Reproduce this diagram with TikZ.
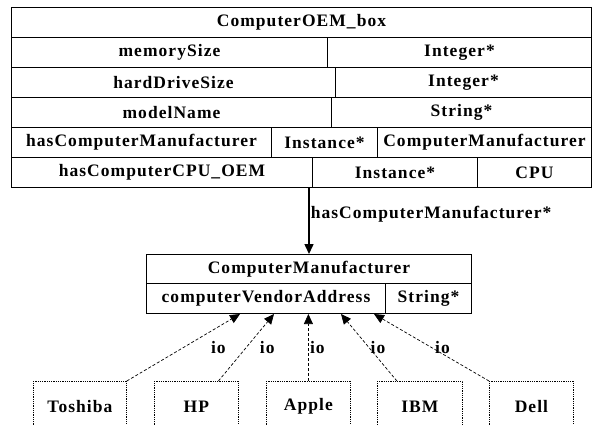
\documentclass[tikz,border=0pt]{standalone}
\usepackage{fontspec}
\setmainfont{Liberation Serif}[LetterSpace=6]
\usetikzlibrary{arrows.meta}
\tikzstyle{cell} = [draw=black, line width=1pt, rectangle, inner sep=0pt, anchor=north west, minimum height=30pt, font=\bfseries\fontsize{17.5}{19}\selectfont]
\tikzstyle{vendor} = [draw=black, densely dotted, line width=0.8pt, rectangle, inner sep=0pt, anchor=north west, minimum height=50pt, font=\bfseries\fontsize{17.5}{19}\selectfont]
\tikzstyle{arrow} = [line width=1.5pt, -{Triangle[length=10pt,width=9pt]}]
\tikzstyle{ioarrow} = [line width=0.7pt, densely dashed, -{Triangle[length=10pt,width=9pt]}]
\tikzstyle{iolab} = [inner sep=0pt, font=\bfseries\fontsize{17.5}{19}\selectfont]

\begin{document}
\begin{tikzpicture}[x=1pt, y=-1pt]
\useasboundingbox (0,0) rectangle (593,424);
% ComputerOEM_box
\node[cell, minimum width=580pt] (oemtitle) at (11,7) {ComputerOEM\_box};
\node[cell, minimum width=316pt] (memsize) at (11,37) {memorySize};
\node[cell, minimum width=264pt] (memtype) at (327,37) {Integer*};
\node[cell, minimum width=324pt] (hdsize) at (11,67) {hardDriveSize};
\node[cell, minimum width=256pt] (hdtype) at (335,67) {Integer*};
\node[cell, minimum width=320pt] (mname) at (11,97) {modelName};
\node[cell, minimum width=260pt] (mntype) at (331,97) {String*};
\node[cell, minimum width=260pt] (hascm) at (11,127) {hasComputerManufacturer};
\node[cell, minimum width=106pt] (hascminst) at (271,127) {Instance*};
\node[cell, minimum width=214pt] (hascmcls) at (377,127) {ComputerManufacturer};
\node[cell, minimum width=301pt] (hascpu) at (11,157) {hasComputerCPU\_OEM};
\node[cell, minimum width=165pt] (hascpuinst) at (312,157) {Instance*};
\node[cell, minimum width=114pt] (hascpucls) at (477,157) {CPU};

% ComputerManufacturer
\node[cell, minimum width=325pt, minimum height=29pt] (cmtitle) at (146,254) {ComputerManufacturer};
\node[cell, minimum width=239pt] (cva) at (146,283) {computerVendorAddress};
\node[cell, minimum width=86pt] (cvatype) at (385,283) {String*};

\draw[arrow] (hascpu.south -| cmtitle.north) -- (cmtitle.north)
    node[pos=0.4, right, inner sep=1pt, font=\bfseries\fontsize{17.5}{19}\selectfont] {hasComputerManufacturer*};

% instances
\node[vendor, minimum width=93pt] (toshiba) at (33,381) {Toshiba};
\node[vendor, minimum width=84pt] (hp) at (154,381) {HP};
\node[vendor, minimum width=84pt] (apple) at (266,381) {Apple};
\node[vendor, minimum width=85pt] (ibm) at (377,381) {IBM};
\node[vendor, minimum width=84pt] (dell) at (489,381) {Dell};

\draw[ioarrow] (toshiba.north east) -- ([xshift=-26pt]cva.south) node[iolab, midway, xshift=35pt] {io};
\draw[ioarrow] ([xshift=22pt]hp.north) -- ([xshift=8pt]cva.south) node[iolab, midway, xshift=21pt] {io};
\draw[ioarrow] (apple.north) -- (apple.north |- cva.south) node[iolab, midway, xshift=9pt] {io};
\draw[ioarrow] ([xshift=-23pt]ibm.north) -- ([xshift=75pt]cva.south) node[iolab, midway, xshift=9pt] {io};
\draw[ioarrow] (dell.north west) -- ([xshift=108pt]cva.south) node[iolab, midway, xshift=11pt] {io};
\end{tikzpicture}
\end{document}
